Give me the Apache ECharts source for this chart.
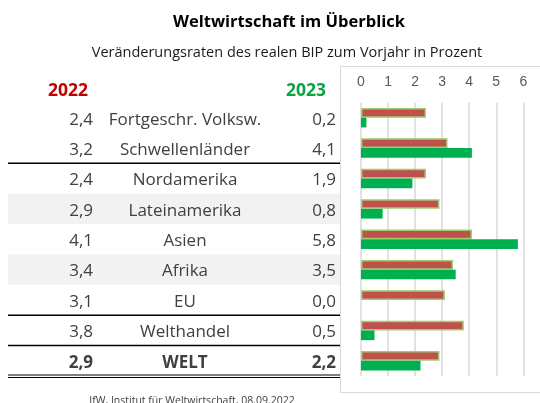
<!DOCTYPE html>
<html><head><meta charset="utf-8">
<script src="https://cdn.jsdelivr.net/npm/echarts@6/dist/echarts.min.js"></script>
<style>html,body{margin:0;padding:0;background:#fff}#c{width:540px;height:403px}</style>
</head><body><div id="c"></div>
<script>
const categories = ['Fortgeschr. Volksw.', 'Schwellenländer', 'Nordamerika', 'Lateinamerika', 'Asien', 'Afrika', 'EU', 'Welthandel', 'WELT'];
const values2022 = [2.4, 3.2, 2.4, 2.9, 4.1, 3.4, 3.1, 3.8, 2.9];
const values2023 = [0.2, 4.1, 1.9, 0.8, 5.8, 3.5, 0.0, 0.5, 2.2];
const xTicks = [0, 1, 2, 3, 4, 5, 6];

const FONT = '"Open Sans", sans-serif';
const stripeRows = new Set([3, 5]);
const lineAfter = new Set([1, 6, 7]);
const boldRow = 8;
const fmt = v => v.toFixed(1).replace('.', ',');

const chart = echarts.init(document.getElementById('c'), null, {renderer: 'canvas'});
const tableData = categories.map((c, i) => [0, i]);

chart.setOption({
  animation: false,
  grid: [
    {left: 8, width: 332, top: 102.5, height: 273.5},
    {left: 361, right: 16.7, top: 102.5, height: 273.5}
  ],
  xAxis: [
    {gridIndex: 0, type: 'value', min: 0, max: 1, show: false},
    {gridIndex: 1, type: 'value', min: xTicks[0], max: xTicks[xTicks.length - 1], interval: 1, position: 'top',
     axisLine: {show: false}, axisTick: {show: false},
     axisLabel: {margin: 13, color: '#595959', fontSize: 14, fontFamily: '"Liberation Sans", Arial, sans-serif',
       formatter: v => xTicks.includes(v) ? String(v) : ''},
     splitLine: {show: true, lineStyle: {color: '#D9D9D9', width: 1.5}}}
  ],
  yAxis: [
    {gridIndex: 0, type: 'category', data: categories, inverse: true, show: false},
    {gridIndex: 1, type: 'category', data: categories, inverse: true,
     axisLine: {show: false}, axisTick: {show: false}, axisLabel: {show: false}, splitLine: {show: false}}
  ],
  graphic: [
    {type: 'rect', z: -1, shape: {x: 340.5, y: 66.5, width: 220, height: 326}, style: {fill: 'none', stroke: '#D9D9D9', lineWidth: 1}},
    {type: 'text', x: 289, y: 22, style: {text: 'Weltwirtschaft im Überblick', font: 'bold 16.5px ' + FONT, fill: '#000', align: 'center', verticalAlign: 'middle'}},
    {type: 'text', x: 287, y: 53, style: {text: 'Veränderungsraten des realen BIP zum Vorjahr in Prozent', font: '14.5px ' + FONT, fill: '#1a1a1a', align: 'center', verticalAlign: 'middle'}},
    {type: 'text', x: 88, y: 91, style: {text: '2022', font: 'bold 17.5px ' + FONT, fill: '#C00000', align: 'right', verticalAlign: 'middle'}},
    {type: 'text', x: 326, y: 91, style: {text: '2023', font: 'bold 17.5px ' + FONT, fill: '#0AA33E', align: 'right', verticalAlign: 'middle'}},
    {type: 'text', x: 192, y: 401, style: {text: 'IfW, Institut für Weltwirtschaft, 08.09.2022', font: '10.5px ' + FONT, fill: '#404040', align: 'center', verticalAlign: 'middle'}}
  ],
  series: [
    {
      type: 'custom', xAxisIndex: 0, yAxisIndex: 0, silent: true, clip: false,
      data: tableData,
      renderItem: function (params, api) {
        const i = api.value(1);
        const cs = params.coordSys;
        const yc = api.coord([0, i])[1];
        const band = api.size([0, 1])[1];
        const top = yc - band / 2, bot = yc + band / 2;
        const children = [];
        if (stripeRows.has(i)) {
          children.push({type: 'rect', shape: {x: cs.x, y: top, width: cs.width, height: band}, style: {fill: '#F2F2F2'}});
        }
        const bold = i === boldRow;
        const base = {fontFamily: FONT, fontSize: 17, fontWeight: bold ? 'bold' : 'normal', fill: '#404040', verticalAlign: 'middle'};
        children.push({type: 'text', style: Object.assign({}, base, {text: fmt(values2022[i]), x: cs.x + 85, y: yc + 2, align: 'right'})});
        children.push({type: 'text', style: Object.assign({}, base, {text: categories[i], x: cs.x + 177, y: yc + 2, align: 'center'})});
        children.push({type: 'text', style: Object.assign({}, base, {text: fmt(values2023[i]), x: cs.x + 328, y: yc + 2, align: 'right'})});
        if (lineAfter.has(i)) {
          children.push({type: 'line', shape: {x1: cs.x, y1: bot, x2: cs.x + cs.width, y2: bot}, style: {stroke: '#000', lineWidth: 1.5}});
        }
        if (i === categories.length - 1) {
          children.push({type: 'line', shape: {x1: cs.x, y1: bot - 1, x2: cs.x + cs.width, y2: bot - 1}, style: {stroke: '#000', lineWidth: 1}});
          children.push({type: 'line', shape: {x1: cs.x, y1: bot + 1.5, x2: cs.x + cs.width, y2: bot + 1.5}, style: {stroke: '#000', lineWidth: 1}});
        }
        return {type: 'group', children: children};
      }
    },
    {
      name: '2022', type: 'bar', xAxisIndex: 1, yAxisIndex: 1, data: values2022,
      barGap: '0%', barCategoryGap: '36%',
      itemStyle: {color: '#C0504D', borderColor: '#9DCB6E', borderWidth: 1.5}
    },
    {
      name: '2023', type: 'bar', xAxisIndex: 1, yAxisIndex: 1, data: values2023,
      barGap: '0%', barCategoryGap: '36%',
      itemStyle: {color: '#00B050', borderWidth: 0}
    }
  ]
});
</script>
</body></html>
